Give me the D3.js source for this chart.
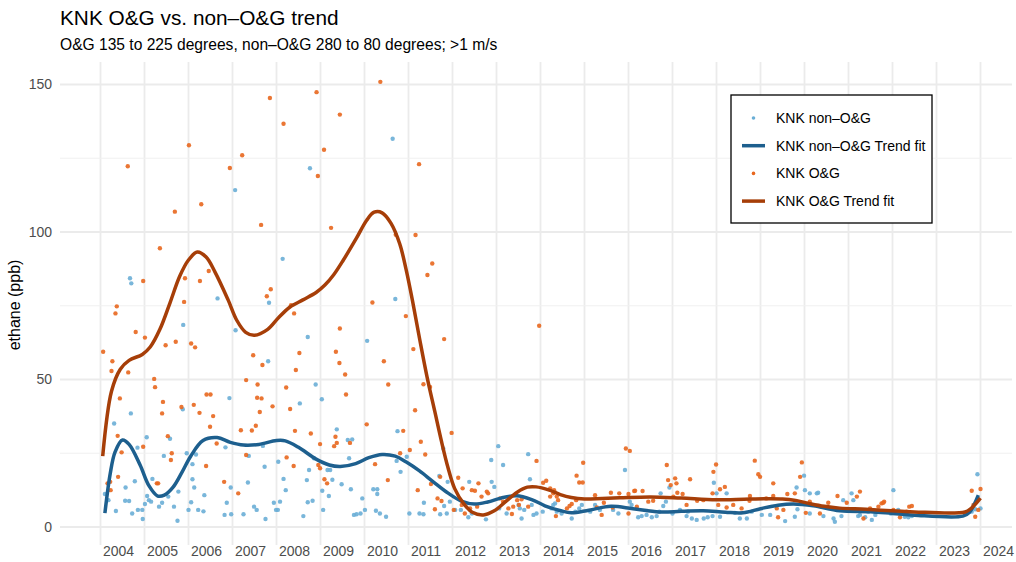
<!DOCTYPE html>
<html>
<head>
<meta charset="utf-8">
<script src="https://cdn.jsdelivr.net/npm/d3@7"></script>
<style>
  body { margin: 0; background: #fff; }
  svg { font-family: "Liberation Sans", Arial, sans-serif; }
</style>
</head>
<body>
<div id="chart"></div>
<script>
// ---- data (decimal year, ethane ppb) ----

var yearTicks = d3.range(2004, 2025);
var yTicks = [0, 50, 100, 150];
var yMinorTicks = [25, 75, 125];

var legendLabels = ["KNK non\u2013O&G", "KNK non\u2013O&G Trend fit", "KNK O&G", "KNK O&G Trend fit"];

var nonOgPoints = [
  [2004.10,11.2],[2004.18,9.1],[2004.31,35.1],[2004.35,5.4],[2004.56,8.9],[2004.57,13.4],[2004.65,8.8],[2004.67,84.3],
  [2004.69,38.5],[2004.70,82.6],[2004.72,4.6],[2004.78,15.5],[2004.84,26.9],[2004.85,5.8],[2004.95,5.8],[2004.96,2.7],
  [2005.01,7.8],[2005.05,30.4],[2005.06,10.5],[2005.10,9.1],[2005.15,8.6],[2005.18,16.3],[2005.33,6.9],[2005.40,8.2],
  [2005.44,24.1],[2005.54,10.3],[2005.58,29.9],[2005.67,6.9],[2005.75,2.1],[2005.77,12.0],[2005.87,39.9],[2005.88,68.5],
  [2005.96,25.0],[2006.00,5.8],[2006.06,8.4],[2006.09,21.3],[2006.09,16.2],[2006.13,13.4],[2006.17,24.6],[2006.22,5.8],
  [2006.34,5.3],[2006.36,10.8],[2006.66,77.5],[2006.84,27.0],[2006.82,4.1],[2006.87,8.2],[2006.93,43.7],[2006.96,13.4],
  [2006.97,4.3],[2007.06,114.2],[2007.07,66.7],[2007.25,4.3],[2007.35,15.1],[2007.37,24.1],[2007.49,6.9],[2007.55,5.8],
  [2007.69,27.5],[2007.73,20.4],[2007.75,2.7],[2007.81,56.2],[2007.83,76.0],[2007.94,8.2],[2007.99,5.8],[2008.03,5.8],
  [2008.04,22.1],[2008.08,8.6],[2008.14,90.9],[2008.16,16.3],[2008.21,12.5],[2008.53,41.9],[2008.61,3.7],[2008.69,15.9],
  [2008.71,64.4],[2008.71,8.4],[2008.74,19.3],[2008.76,121.6],[2008.82,8.9],[2008.85,23.3],[2008.89,48.3],[2009.03,43.3],
  [2009.04,12.3],[2009.06,5.8],[2009.16,19.3],[2009.19,10.5],[2009.22,19.3],[2009.27,16.0],[2009.37,33.1],[2009.48,14.5],
  [2009.62,29.5],[2009.65,23.3],[2009.69,12.8],[2009.72,29.7],[2009.76,4.1],[2009.82,4.3],[2009.91,4.6],[2009.95,9.7],
  [2010.01,5.8],[2010.06,63.1],[2010.20,12.8],[2010.26,5.5],[2010.29,12.8],[2010.29,11.2],[2010.35,4.6],[2010.49,3.5],
  [2010.64,131.6],[2010.70,77.3],[2010.73,22.4],[2010.75,32.5],[2010.82,18.7],[2010.96,23.8],[2011.02,4.6],[2011.25,4.6],
  [2011.34,4.3],[2011.35,8.2],[2011.70,17.3],[2011.72,4.3],[2011.79,26.6],[2011.81,7.1],[2011.87,4.6],[2011.89,15.3],
  [2011.94,8.6],[2012.06,5.8],[2012.19,5.8],[2012.36,3.3],[2012.38,15.3],[2012.44,4.6],[2012.76,2.6],[2012.88,22.7],
  [2012.89,15.3],[2012.95,13.6],[2013.04,27.4],[2013.06,6.3],[2013.15,21.0],[2013.23,4.6],[2013.50,7.5],[2013.53,6.3],
  [2013.57,2.9],[2013.63,5.8],[2013.72,24.7],[2013.76,16.2],[2013.80,7.5],[2013.84,4.1],[2013.91,4.6],[2014.05,5.2],
  [2014.25,6.3],[2014.29,7.5],[2014.33,8.0],[2014.37,5.2],[2014.48,4.6],[2014.71,2.9],[2014.79,5.2],[2014.88,6.3],
  [2014.94,7.5],[2015.13,5.2],[2015.24,7.5],[2015.35,5.8],[2015.65,5.8],[2015.77,4.6],[2015.92,19.3],[2016.03,8.6],
  [2016.07,7.5],[2016.22,3.3],[2016.30,3.7],[2016.41,4.1],[2016.53,3.3],[2016.64,3.7],[2016.70,5.2],[2016.73,11.4],
  [2016.79,7.1],[2016.85,8.6],[2016.93,13.4],[2017.00,4.6],[2017.17,5.8],[2017.32,3.7],[2017.35,5.2],[2017.44,2.9],
  [2017.55,2.4],[2017.71,2.9],[2017.80,3.3],[2017.91,3.7],[2017.94,15.0],[2018.00,11.4],[2018.08,3.5],[2018.23,11.4],
  [2018.42,4.8],[2018.53,2.9],[2018.69,2.9],[2018.80,5.2],[2019.03,4.1],[2019.22,4.1],[2019.56,2.0],[2019.78,3.5],
  [2019.82,13.4],[2019.84,6.0],[2019.99,17.4],[2020.01,12.5],[2020.12,11.4],[2020.12,4.6],[2020.28,11.4],[2020.31,11.6],
  [2020.43,3.7],[2020.66,2.9],[2020.69,1.8],[2020.84,3.7],[2020.88,9.1],[2021.07,11.4],[2021.11,9.1],[2021.22,3.7],
  [2021.26,4.1],[2021.38,3.3],[2021.45,5.2],[2021.53,2.4],[2021.61,4.1],[2021.72,5.2],[2021.96,4.6],[2022.02,12.5],
  [2022.13,5.8],[2022.28,3.5],[2022.36,3.3],[2022.44,3.7],[2023.80,5.2],[2023.88,6.0],[2023.93,17.9],[2024.00,6.3]
];

var ogPoints = [
  [2004.06,59.4],[2004.16,14.8],[2004.22,15.3],[2004.23,12.5],[2004.25,52.9],[2004.27,56.2],[2004.34,72.4],[2004.37,74.8],
  [2004.39,30.9],[2004.40,17.0],[2004.44,43.6],[2004.48,25.3],[2004.62,122.3],[2004.63,52.4],[2004.80,66.1],[2004.97,83.4],
  [2004.97,27.2],[2005.01,64.2],[2005.22,50.2],[2005.24,47.4],[2005.28,14.8],[2005.31,14.8],[2005.35,94.5],[2005.40,38.5],
  [2005.42,42.4],[2005.48,61.6],[2005.53,30.8],[2005.60,22.7],[2005.62,25.0],[2005.69,106.9],[2005.71,62.8],[2005.84,40.7],
  [2005.90,76.3],[2005.92,84.3],[2006.01,129.4],[2006.06,62.2],[2006.12,41.4],[2006.15,60.9],[2006.25,38.7],[2006.26,83.4],
  [2006.29,109.4],[2006.40,20.7],[2006.41,44.9],[2006.46,86.8],[2006.49,34.0],[2006.50,44.9],[2006.56,37.6],[2006.64,28.3],
  [2006.81,15.3],[2006.94,121.7],[2007.13,11.4],[2007.19,32.8],[2007.22,126.0],[2007.31,49.8],[2007.31,24.4],[2007.44,32.7],
  [2007.47,58.2],[2007.53,34.3],[2007.56,43.8],[2007.57,48.3],[2007.62,39.0],[2007.65,102.4],[2007.66,43.6],[2007.68,54.9],
  [2007.78,78.2],[2007.85,145.4],[2007.87,80.6],[2007.91,40.9],[2008.16,136.7],[2008.22,47.3],[2008.23,23.6],[2008.31,40.0],
  [2008.33,75.2],[2008.39,20.7],[2008.40,72.4],[2008.42,32.6],[2008.44,53.2],[2008.52,59.0],[2008.78,31.7],[2008.91,147.4],
  [2008.94,119.0],[2008.95,21.0],[2008.99,28.1],[2008.99,19.9],[2009.08,127.9],[2009.09,16.2],[2009.15,14.8],[2009.24,101.4],
  [2009.31,27.4],[2009.34,30.6],[2009.35,59.4],[2009.37,28.5],[2009.43,55.6],[2009.44,67.3],[2009.44,139.8],[2009.56,51.7],
  [2009.58,44.9],[2009.67,28.5],[2010.05,34.8],[2010.18,76.1],[2010.24,21.3],[2010.36,150.9],[2010.44,56.2],[2010.53,15.9],
  [2010.54,48.3],[2010.71,99.1],[2010.81,25.0],[2010.88,32.6],[2010.94,71.5],[2011.03,26.1],[2011.11,60.3],[2011.15,39.6],
  [2011.16,99.0],[2011.21,12.5],[2011.24,123.0],[2011.28,28.9],[2011.34,48.4],[2011.38,24.6],[2011.43,85.4],[2011.49,47.5],
  [2011.51,14.6],[2011.54,89.3],[2011.60,6.0],[2011.66,9.7],[2011.72,17.0],[2011.75,8.8],[2011.81,63.7],[2011.98,31.9],
  [2012.03,5.8],[2012.13,16.7],[2012.21,7.5],[2012.23,13.1],[2012.28,4.6],[2012.40,6.3],[2012.44,12.5],[2012.51,12.3],
  [2012.56,6.9],[2012.59,14.8],[2012.66,10.3],[2012.78,12.0],[2012.81,11.4],[2013.08,9.7],[2013.15,8.6],[2013.27,6.3],
  [2013.35,4.4],[2013.38,6.9],[2013.47,9.1],[2013.51,7.5],[2013.57,9.4],[2013.72,6.9],[2013.91,22.4],[2013.97,68.2],
  [2014.06,15.0],[2014.13,15.7],[2014.22,13.1],[2014.22,10.3],[2014.29,11.4],[2014.31,12.5],[2014.35,3.7],[2014.37,10.3],
  [2014.40,9.1],[2014.60,6.3],[2014.66,7.1],[2014.71,7.8],[2014.81,9.1],[2014.82,17.4],[2014.88,15.1],[2014.96,15.1],
  [2014.97,21.8],[2015.24,10.8],[2015.28,6.6],[2015.39,4.1],[2015.44,8.2],[2015.60,11.6],[2015.64,6.6],[2015.79,11.4],
  [2015.94,26.6],[2016.00,11.2],[2016.00,4.6],[2016.03,25.8],[2016.13,12.2],[2016.15,12.3],[2016.19,6.9],[2016.32,12.2],
  [2016.45,8.6],[2016.56,8.9],[2016.87,21.0],[2016.90,15.9],[2016.96,14.2],[2017.02,10.3],[2017.06,16.5],[2017.09,14.8],
  [2017.11,11.6],[2017.23,11.2],[2017.32,7.5],[2017.40,16.2],[2017.56,8.9],[2017.70,9.1],[2017.91,11.4],[2017.93,18.7],
  [2017.99,21.2],[2018.04,7.5],[2018.08,12.8],[2018.19,13.6],[2018.23,6.6],[2018.38,7.5],[2018.57,6.3],[2018.75,8.9],
  [2018.76,10.5],[2018.87,22.5],[2018.95,17.9],[2018.99,17.0],[2019.13,9.7],[2019.29,14.8],[2019.29,10.5],[2019.37,6.3],
  [2019.40,3.3],[2019.52,5.8],[2019.61,11.2],[2019.78,11.4],[2019.90,17.0],[2019.94,21.9],[2020.03,4.8],[2020.12,8.6],
  [2020.35,4.6],[2020.54,8.2],[2020.75,10.5],[2020.96,8.2],[2021.19,10.3],[2021.26,12.0],[2021.34,2.9],[2021.49,6.3],
  [2021.68,6.9],[2021.75,8.0],[2021.79,8.2],[2021.81,8.6],[2022.02,5.8],[2022.17,3.3],[2022.32,5.2],[2022.38,6.9],
  [2022.44,7.1],[2023.80,12.3],[2023.84,7.5],[2023.88,3.5],[2023.95,5.8],[2024.00,12.9]
];

var nonOgTrend = [
  [2004.10,4.7],[2004.22,18],[2004.33,25.4],[2004.50,29.5],[2004.65,28],[2004.90,21],[2005.10,14],[2005.30,10.5],
  [2005.45,10.8],[2005.65,13.5],[2005.85,18.5],[2006.05,24],[2006.33,29.3],[2006.65,30.3],[2006.95,28.7],[2007.25,27.8],
  [2007.60,28],[2008.00,29.3],[2008.20,29.2],[2008.50,27],[2008.90,23],[2009.20,21],[2009.45,20.5],[2009.80,21.5],
  [2010.10,23.5],[2010.40,24.6],[2010.70,24],[2010.95,22],[2011.25,19],[2011.55,15.5],[2011.90,11.5],[2012.20,8.8],
  [2012.50,7.8],[2012.80,8.5],[2013.10,9.8],[2013.45,10.6],[2013.80,9.3],[2014.10,7.2],[2014.44,5.6],[2014.70,4.8],
  [2015.10,5.7],[2015.60,7],[2016.10,6.2],[2016.70,5.1],[2017.20,5.3],[2017.70,5.5],[2018.20,5.0],[2018.60,4.8],
  [2019.00,6.2],[2019.40,7.4],[2019.75,7.8],[2020.20,7.2],[2020.80,5.5],[2021.50,5.2],[2022.00,4.6],[2022.50,4.0],
  [2023.60,3.7],[2023.75,5],[2023.95,10.8]
];

var ogTrend = [
  [2004.05,24],[2004.25,46],[2004.45,53.5],[2004.65,56.5],[2004.95,58.5],[2005.13,61],[2005.35,67],[2005.58,76],
  [2005.80,85],[2006.00,90.5],[2006.20,93.2],[2006.40,91.5],[2006.60,86.5],[2006.90,77],[2007.10,70],[2007.30,66],
  [2007.50,65],[2007.80,67],[2008.05,71],[2008.30,74.5],[2008.60,77],[2008.90,79.5],[2009.10,82],[2009.30,85.5],
  [2009.52,90.5],[2009.82,98],[2010.05,104],[2010.22,106.7],[2010.40,106.5],[2010.60,103],[2010.80,96],[2010.95,87],
  [2011.10,76],[2011.25,64],[2011.42,51],[2011.60,39],[2011.75,29],[2011.90,20],[2012.05,13],[2012.25,8],
  [2012.45,5],[2012.70,4.1],[2012.95,5.5],[2013.20,8.5],[2013.47,11.8],[2013.70,13.5],[2013.90,13.6],[2014.20,12.5],
  [2014.45,11],[2014.70,10],[2015.00,9.5],[2015.40,9.7],[2015.80,9.9],[2016.50,10.2],[2017.20,9.8],[2018.00,9.2],
  [2018.76,9.5],[2019.50,9.5],[2019.80,9],[2020.10,8],[2020.45,7],[2020.80,6.4],[2021.40,6.0],[2022.20,5.3],
  [2022.50,5.1],[2023.65,5.1],[2023.80,6.5],[2024.00,9.8]
];

// ---- colours ----
var blueLight = "#6aaed6", blueDark = "#1d5f8e";
var orangeLight = "#e8671e", orangeDark = "#a63e08";

// ---- layout ----
var width = 1016, height = 562;
var panel = {left: 60, right: 1012, top: 62, bottom: 545};

var svg = d3.select("#chart").append("svg")
    .attr("width", width)
    .attr("height", height);

var x = d3.scaleLinear().domain([2004, 2024]).range([100.5, 980.5]);
var y = d3.scaleLinear().domain([0, 150]).range([527, 84.5]);

// grid
var grid = svg.append("g");
grid.selectAll(".vgrid")
    .data(yearTicks)
    .enter().append("line")
    .attr("x1", function(d) { return x(d); })
    .attr("x2", function(d) { return x(d); })
    .attr("y1", panel.top)
    .attr("y2", panel.bottom)
    .attr("stroke", "#ebebeb")
    .attr("stroke-width", 1.8);

grid.selectAll(".hminor")
    .data(yMinorTicks)
    .enter().append("line")
    .attr("x1", panel.left).attr("x2", panel.right)
    .attr("y1", function(d) { return y(d); })
    .attr("y2", function(d) { return y(d); })
    .attr("stroke", "#f0f0f0")
    .attr("stroke-width", 1.2);

grid.selectAll(".hmajor")
    .data(yTicks)
    .enter().append("line")
    .attr("x1", panel.left).attr("x2", panel.right)
    .attr("y1", function(d) { return y(d); })
    .attr("y2", function(d) { return y(d); })
    .attr("stroke", "#ebebeb")
    .attr("stroke-width", 1.8);

// axes labels
svg.append("g").selectAll("text")
    .data(yTicks)
    .enter().append("text")
    .attr("x", 52)
    .attr("y", function(d) { return y(d); })
    .attr("dy", "0.35em")
    .attr("text-anchor", "end")
    .attr("fill", "#4d4d4d")
    .attr("font-size", 14)
    .text(function(d) { return d; });

svg.append("g").selectAll("text")
    .data(yearTicks)
    .enter().append("text")
    .attr("x", function(d) { return x(d) + 2.5; })
    .attr("y", 556)
    .attr("text-anchor", "start")
    .attr("fill", "#4d4d4d")
    .attr("font-size", 14)
    .text(function(d) { return d; });

svg.append("text")
    .attr("transform", "translate(20,305) rotate(-90)")
    .attr("text-anchor", "middle")
    .attr("font-size", 16)
    .attr("fill", "#000")
    .text("ethane (ppb)");

// titles
svg.append("text")
    .attr("x", 60).attr("y", 25)
    .attr("font-size", 20.8)
    .attr("fill", "#000")
    .text("KNK O&G vs. non\u2013O&G trend");

svg.append("text")
    .attr("x", 60).attr("y", 50)
    .attr("font-size", 15.6)
    .attr("fill", "#000")
    .text("O&G 135 to 225 degrees, non\u2013O&G 280 to 80 degrees; >1 m/s");

// points
function drawPoints(data, colour) {
    svg.append("g").selectAll("circle")
        .data(data)
        .enter().append("circle")
        .attr("cx", function(d) { return x(d[0]); })
        .attr("cy", function(d) { return y(d[1]); })
        .attr("r", 2.2)
        .attr("fill", colour)
        .attr("fill-opacity", 0.9);
}
drawPoints(nonOgPoints, blueLight);
drawPoints(ogPoints, orangeLight);

// trend lines
var line = d3.line()
    .x(function(d) { return x(d[0]); })
    .y(function(d) { return y(d[1]); })
    .curve(d3.curveCatmullRom.alpha(0.5));

svg.append("path")
    .datum(nonOgTrend)
    .attr("d", line)
    .attr("fill", "none")
    .attr("stroke", blueDark)
    .attr("stroke-width", 3.5)
    .attr("stroke-linejoin", "round");

svg.append("path")
    .datum(ogTrend)
    .attr("d", line)
    .attr("fill", "none")
    .attr("stroke", orangeDark)
    .attr("stroke-width", 3.5)
    .attr("stroke-linejoin", "round");

// legend
var legend = svg.append("g");
legend.append("rect")
    .attr("x", 731).attr("y", 95)
    .attr("width", 201).attr("height", 128)
    .attr("fill", "#fff")
    .attr("stroke", "#000")
    .attr("stroke-width", 1.3);

var keys = [
    {type: "point", colour: blueLight},
    {type: "line", colour: blueDark},
    {type: "point", colour: orangeLight},
    {type: "line", colour: orangeDark}
];

keys.forEach(function(k, i) {
    var cy = 118 + i * 27.7;
    if (k.type === "point") {
        legend.append("circle")
            .attr("cx", 753.5).attr("cy", cy).attr("r", 1.8)
            .attr("fill", k.colour);
    } else {
        legend.append("line")
            .attr("x1", 742).attr("x2", 765)
            .attr("y1", cy).attr("y2", cy)
            .attr("stroke", k.colour)
            .attr("stroke-width", 3.5);
    }
    legend.append("text")
        .attr("x", 776).attr("y", cy)
        .attr("dy", "0.35em")
        .attr("font-size", 14)
        .attr("fill", "#000")
        .text(legendLabels[i]);
});
</script>
</body>
</html>
